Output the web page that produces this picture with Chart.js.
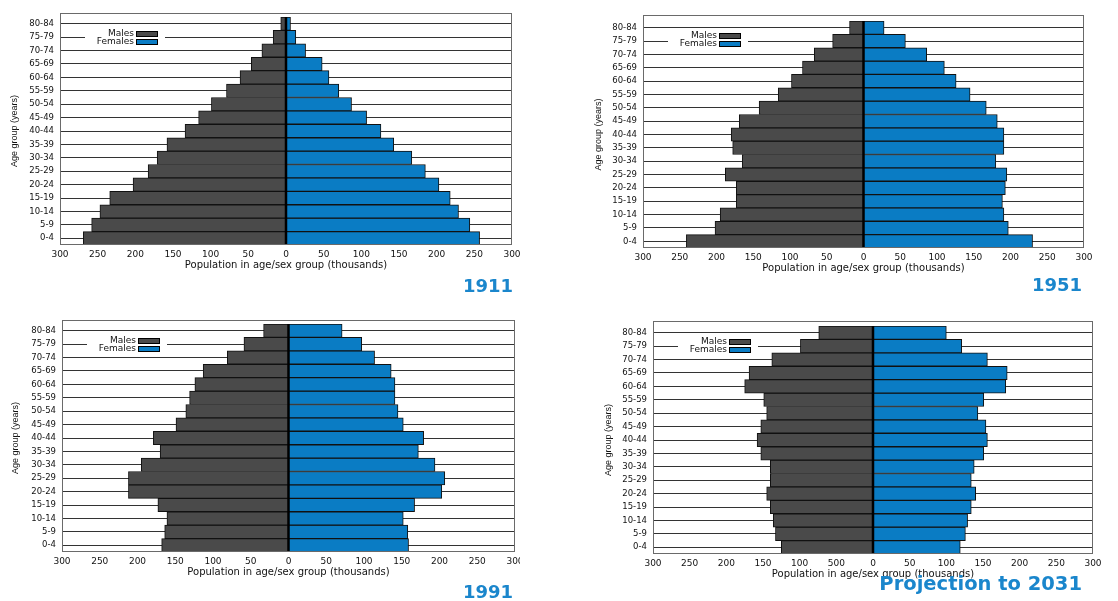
<!DOCTYPE html>
<html>
<head>
<meta charset="utf-8">
<script src="https://cdn.jsdelivr.net/npm/chart.js@4.4.1/dist/chart.umd.min.js"></script>
<style>
  body { margin: 0; background: #fff; width: 1118px; height: 601px; overflow: hidden; position: relative; }
  canvas { position: absolute; }
</style>
</head>
<body>
<canvas id="c1911" width="520" height="300" style="left:0;top:0"></canvas>
<canvas id="c1951" width="538" height="300" style="left:580px;top:0"></canvas>
<canvas id="c1991" width="520" height="301" style="left:0;top:300px"></canvas>
<canvas id="c2031" width="538" height="301" style="left:580px;top:300px"></canvas>
<script>
// Age groups, youngest first (y axis is reversed so 80-84 sits on top)
const ageGroups = ['0-4', '5-9', '10-14', '15-19', '20-24', '25-29', '30-34', '35-39', '40-44',
                   '45-49', '50-54', '55-59', '60-64', '65-69', '70-74', '75-79', '80-84'];

// Population in thousands
const males1911   = [269, 258, 247, 234, 203, 183, 171, 158, 134, 116, 99, 79, 61, 46, 32, 17, 7];
const females1911 = [257, 244, 229, 218, 203, 185, 167, 143, 126, 107, 87, 70, 57, 48, 26, 13, 6];

const males1951   = [241, 202, 195, 173, 173, 188, 165, 178, 180, 169, 142, 116, 98, 83, 67, 42, 19];
const females1951 = [230, 197, 191, 189, 193, 195, 180, 191, 191, 182, 167, 145, 126, 110, 86, 57, 28];

const males1991   = [168, 164, 161, 173, 212, 212, 195, 170, 179, 149, 136, 131, 124, 113, 81, 59, 33];
const females1991 = [159, 158, 152, 167, 203, 207, 194, 172, 179, 152, 145, 141, 141, 136, 114, 97, 71];

const males2031   = [125, 133, 136, 140, 145, 140, 140, 153, 158, 153, 145, 149, 175, 169, 138, 99, 74];
const females2031 = [119, 126, 129, 134, 140, 134, 138, 151, 156, 154, 143, 151, 181, 183, 156, 121, 100];

// Tick labels (the 2031 panel has "500" printed where 50 should be)
const xTickLabels     = ['300', '250', '200', '150', '100', '50', '0', '50', '100', '150', '200', '250', '300'];
const xTickLabels2031 = ['300', '250', '200', '150', '100', '500', '0', '50', '100', '150', '200', '250', '300'];

const colourMales = '#4a4a4a';
const colourFemales = '#0a7cc4';

Chart.defaults.font.family = '"DejaVu Sans", sans-serif';

// frame, zero line, legend and year label
const decorPlugin = {
    id: 'decor',
    afterDatasetsDraw(chart, args, opts) {
        const { ctx, chartArea: a, scales: { x } } = chart;
        const L = a.left, T = a.top - opts.gap;
        ctx.save();

        // linea del cero
        const x0 = x.getPixelForValue(0);
        ctx.strokeStyle = '#000';
        ctx.lineWidth = 2.5;
        ctx.beginPath();
        ctx.moveTo(x0, a.top);
        ctx.lineTo(x0, a.bottom);
        ctx.stroke();

        // marco
        ctx.strokeStyle = '#6a6a6a';
        ctx.lineWidth = 1;
        ctx.strokeRect(L + 0.5, T + 0.5, a.width - 1, a.bottom - T - 1);

        // leyenda
        ctx.fillStyle = '#fff';
        ctx.fillRect(L + 25, T + 14, 80, 21);
        ctx.font = '9px "DejaVu Sans"';
        ctx.textAlign = 'right';
        ctx.textBaseline = 'middle';
        chart.data.datasets.forEach((ds, i) => {
            const by = T + 18 + i * 8;
            ctx.fillStyle = ds.backgroundColor;
            ctx.fillRect(L + 76, by, 22, 6);
            ctx.strokeStyle = '#000';
            ctx.strokeRect(L + 76.5, by + 0.5, 21, 5);
            ctx.fillStyle = '#111';
            ctx.fillText(ds.label, L + 74, by + 3);
        });

        // año
        ctx.font = 'bold ' + opts.yearSize + 'px "DejaVu Sans"';
        ctx.fillStyle = '#1a86cc';
        ctx.textBaseline = 'alphabetic';
        ctx.fillText(opts.year, a.right + opts.yearDx, a.bottom + opts.yearDy);
        ctx.restore();
    }
};

function drawPyramid(id, males, females, tickLabels, year, lay) {
    new Chart(document.getElementById(id), {
        type: 'bar',
        data: {
            labels: ageGroups,
            datasets: [
                { label: 'Males', data: males.map(v => -v), backgroundColor: colourMales,
                  borderColor: '#111', borderWidth: 1, barPercentage: 1, categoryPercentage: 1 },
                { label: 'Females', data: females, backgroundColor: colourFemales,
                  borderColor: '#111', borderWidth: 1, barPercentage: 1, categoryPercentage: 1 }
            ]
        },
        options: {
            indexAxis: 'y',
            responsive: false,
            animation: false,
            layout: { padding: { top: lay.top, right: lay.right, bottom: lay.bottom, left: 0 } },
            plugins: {
                legend: { display: false },
                tooltip: { enabled: false },
                decor: { gap: lay.gap, year: year, yearDx: lay.yearDx, yearDy: lay.yearDy, yearSize: lay.yearSize }
            },
            scales: {
                x: {
                    stacked: true,
                    min: -300,
                    max: 300,
                    ticks: {
                        stepSize: 50, autoSkip: false, maxRotation: 0, padding: 4,
                        color: '#111', font: { size: 9 },
                        callback: (v, i) => tickLabels[i]
                    },
                    grid: { display: false, drawTicks: false },
                    border: { display: false },
                    title: {
                        display: true, text: 'Population in age/sex group (thousands)',
                        color: '#111', font: { size: 10 }, padding: { top: 0, bottom: 4 }
                    },
                    afterFit: s => { s.height = 30; s.paddingLeft = 0; s.paddingRight = 0; }
                },
                y: {
                    stacked: true,
                    reverse: true,
                    ticks: { autoSkip: false, padding: 6, color: '#111', font: { size: 8.5 } },
                    grid: { offset: false, drawTicks: false, color: '#333' },
                    border: { display: false },
                    title: {
                        display: true, text: 'Age group (years)', color: '#111',
                        font: { family: '"Liberation Sans"', size: 9 },
                        padding: { top: lay.titlePad, bottom: 0 }
                    },
                    afterFit: s => { s.width = lay.yWidth; }
                }
            }
        },
        plugins: [decorPlugin]
    });
}

drawPyramid('c1911', males1911, females1911, xTickLabels, '1911',
    { top: 17, right: 8, bottom: 25, gap: 4, yWidth: 60, titlePad: 9, yearDx: 1, yearDy: 47, yearSize: 18 });
drawPyramid('c1951', males1951, females1951, xTickLabels, '1951',
    { top: 21, right: 34, bottom: 22, gap: 6, yWidth: 63, titlePad: 13, yearDx: -2, yearDy: 43, yearSize: 18 });
drawPyramid('c1991', males1991, females1991, xTickLabels, '1991',
    { top: 24, right: 5, bottom: 19, gap: 4, yWidth: 62, titlePad: 10, yearDx: -2, yearDy: 46, yearSize: 18 });
drawPyramid('c2031', males2031, females2031, xTickLabels2031, 'Projection to 2031',
    { top: 26, right: 25, bottom: 17, gap: 5, yWidth: 73, titlePad: 23, yearDx: -11, yearDy: 36, yearSize: 19.5 });
</script>
</body>
</html>
